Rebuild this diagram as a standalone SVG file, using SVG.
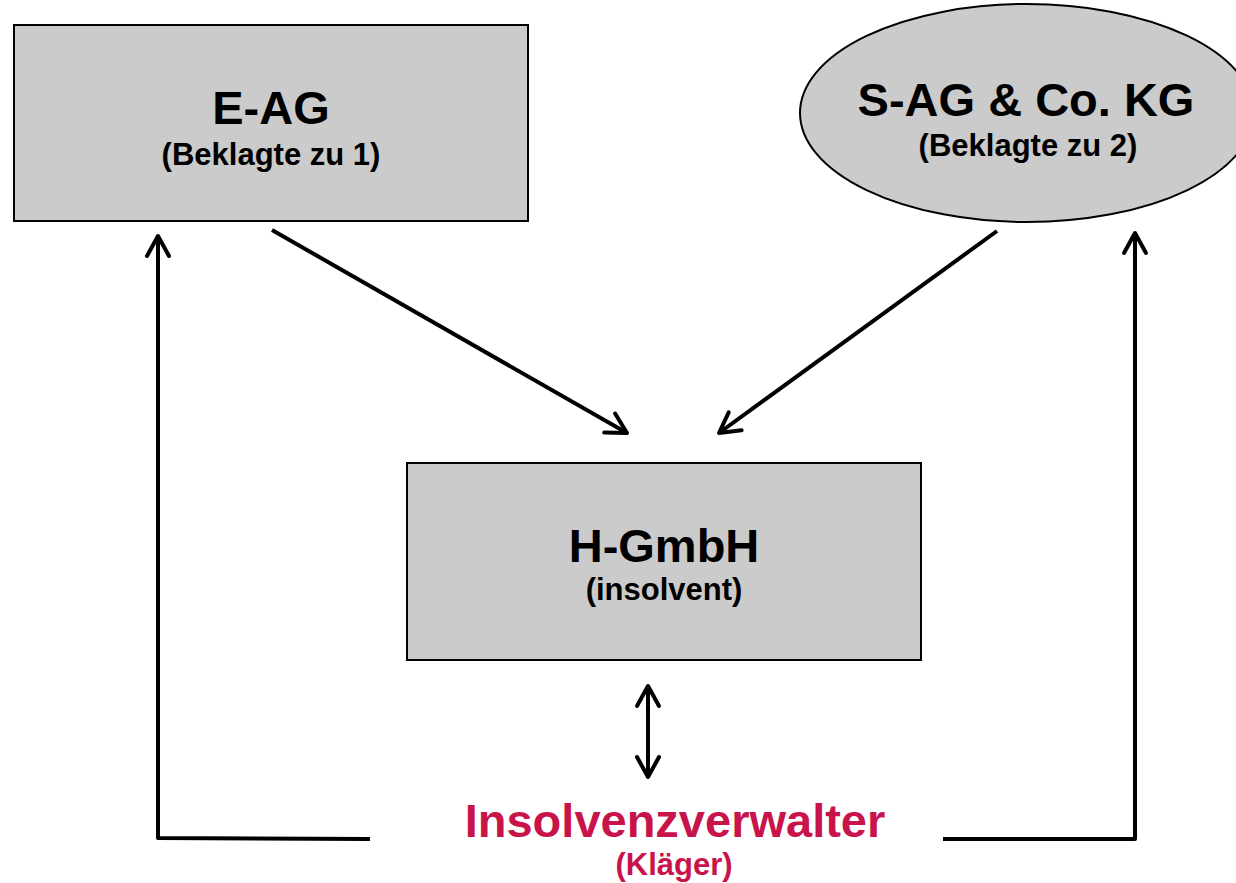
<svg xmlns="http://www.w3.org/2000/svg" width="1236" height="883" viewBox="0 0 1236 883">
  <style>
    .box { fill: #cbcbcb; stroke: #000; stroke-width: 2; }
    .title { font-family: "Liberation Sans", Arial, sans-serif; font-weight: bold; font-size: 47px; fill: #000; text-anchor: middle; }
    .sub { font-family: "Liberation Sans", Arial, sans-serif; font-weight: bold; font-size: 31px; fill: #000; text-anchor: middle; }
    .red { fill: #c8144b; }
    .conn { fill: none; stroke: #000; stroke-width: 4; stroke-linejoin: round; }
  </style>
  <defs>
    <marker id="arrow" markerUnits="userSpaceOnUse" viewBox="-24 -14 28 28" markerWidth="28" markerHeight="28" refX="0" refY="0" orient="auto-start-reverse" overflow="visible">
      <path d="M -20 -11 L 0 0 L -20 11" fill="none" stroke="#000" stroke-width="4" stroke-linecap="round" stroke-linejoin="round"/>
    </marker>
  </defs>
  <rect width="1236" height="883" fill="#fff"/>

  <g id="node-eag">
    <rect class="box" x="14" y="25" width="514" height="196"/>
    <text class="title" x="271" y="124">E-AG</text>
    <text class="sub" x="271" y="165">(Beklagte zu 1)</text>
  </g>

  <g id="node-sag">
    <ellipse class="box" cx="1027" cy="113" rx="227" ry="109"/>
    <text class="title" x="1026" y="116">S-AG &amp; Co. KG</text>
    <text class="sub" x="1028" y="156">(Beklagte zu 2)</text>
  </g>

  <g id="node-hgmbh">
    <rect class="box" x="407" y="463" width="514" height="197"/>
    <text class="title" x="664" y="562">H-GmbH</text>
    <text class="sub" x="664" y="600">(insolvent)</text>
  </g>

  <g id="node-iv">
    <text class="title red" x="675" y="837" font-size="48">Insolvenzverwalter</text>
    <text class="sub red" x="674" y="875">(Kläger)</text>
  </g>

  <g id="connectors">
    <line class="conn" x1="272" y1="230" x2="627" y2="433" marker-end="url(#arrow)"/>
    <line class="conn" x1="997" y1="231" x2="719" y2="433" marker-end="url(#arrow)"/>
    <polyline class="conn" points="370,839 158,838 158,236" marker-end="url(#arrow)"/>
    <polyline class="conn" points="943,839 1135,839 1135,233" marker-end="url(#arrow)"/>
    <line class="conn" x1="648" y1="686" x2="648" y2="777" marker-start="url(#arrow)" marker-end="url(#arrow)"/>
  </g>
</svg>
